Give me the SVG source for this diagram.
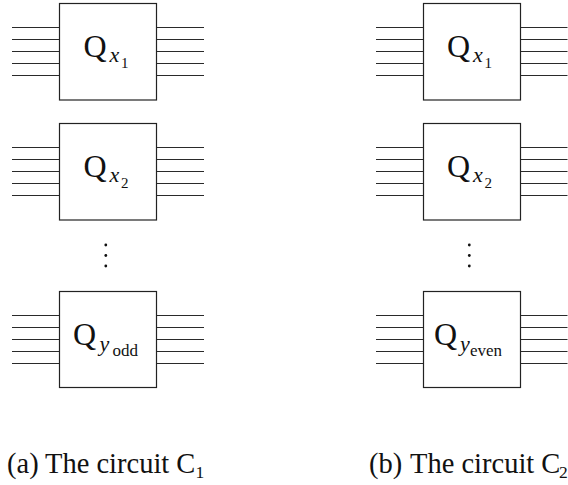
<svg xmlns="http://www.w3.org/2000/svg" width="568" height="485" viewBox="0 0 568 485">
<defs>
<style>
.box{fill:#fff;stroke:#222;stroke-width:1.2}
.w{stroke:#2a2a2a;stroke-width:1.1;fill:none}
.q{font-family:"Liberation Serif",serif;font-size:32px;fill:#111}
.mi{font-style:italic;font-size:22px}
.s{font-size:15px}
.so{font-size:17px}
.cap{font-family:"Liberation Serif",serif;font-size:28.5px;fill:#111}
.cs{font-family:"Liberation Serif",serif;font-size:17.5px;fill:#111}
.dot{fill:#111}
</style>
<g id="wires5">
<path class="w" d="M0 -24H47M0 -12H47M0 0H47M0 12H47M0 24H47"/>
</g>
</defs>
<g id="connectors">
<use href="#wires5" x="12" y="51.5"/><use href="#wires5" x="157" y="51.5"/>
<use href="#wires5" x="12" y="171.5"/><use href="#wires5" x="157" y="171.5"/>
<use href="#wires5" x="12" y="339.5"/><use href="#wires5" x="157" y="339.5"/>
<use href="#wires5" x="376" y="51.5"/><use href="#wires5" x="520.5" y="51.5"/>
<use href="#wires5" x="376" y="171.5"/><use href="#wires5" x="520.5" y="171.5"/>
<use href="#wires5" x="376" y="339.5"/><use href="#wires5" x="520.5" y="339.5"/>
</g>
<g id="a-q1"><rect class="box" x="59.5" y="3.5" width="97" height="96.5"/>
<text class="q" x="83.5" y="57">Q<tspan class="mi" x="109.5" y="62">x</tspan><tspan class="s" x="121" y="67.5">1</tspan></text></g>
<g id="a-q2"><rect class="box" x="59.5" y="123.5" width="97" height="96.5"/>
<text class="q" x="83.5" y="177">Q<tspan class="mi" x="109.5" y="182">x</tspan><tspan class="s" x="121" y="187.5">2</tspan></text></g>
<g id="a-dots"><circle class="dot" cx="105.8" cy="245" r="1.4"/><circle class="dot" cx="105.8" cy="255.5" r="1.4"/><circle class="dot" cx="105.8" cy="266" r="1.4"/></g>
<g id="a-q3"><rect class="box" x="59.5" y="291.5" width="97" height="96"/>
<text class="q" x="73" y="345">Q<tspan class="mi" x="99.5" y="351">y</tspan><tspan class="so" x="112.5" y="355.5">odd</tspan></text></g>
<g id="b-q1"><rect class="box" x="423.5" y="3.5" width="97" height="96.5"/>
<text class="q" x="447" y="57">Q<tspan class="mi" x="473" y="62">x</tspan><tspan class="s" x="484.5" y="67.5">1</tspan></text></g>
<g id="b-q2"><rect class="box" x="423.5" y="123.5" width="97" height="96.5"/>
<text class="q" x="447" y="177">Q<tspan class="mi" x="473" y="182">x</tspan><tspan class="s" x="484.5" y="187.5">2</tspan></text></g>
<g id="b-dots"><circle class="dot" cx="469.3" cy="245" r="1.4"/><circle class="dot" cx="469.3" cy="255.5" r="1.4"/><circle class="dot" cx="469.3" cy="266" r="1.4"/></g>
<g id="b-q3"><rect class="box" x="423.5" y="291.5" width="97" height="96"/>
<text class="q" x="434" y="345">Q<tspan class="mi" x="460" y="351">y</tspan><tspan class="so" x="470" y="355.5">even</tspan></text></g>
<g id="captions">
<text class="cap" x="7" y="473">(a)</text>
<text class="cap" x="45" y="473">The circuit C</text>
<text class="cs" x="195.5" y="477.5">1</text>
<text class="cap" x="369" y="473">(b)</text>
<text class="cap" x="410" y="473">The circuit C</text>
<text class="cs" x="559" y="477.5">2</text>
</g>
</svg>
